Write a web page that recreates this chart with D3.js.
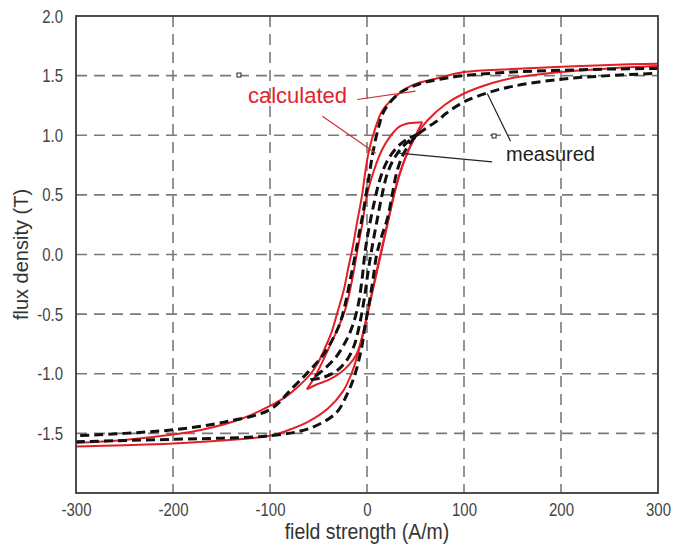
<!DOCTYPE html>
<html>
<head>
<meta charset="utf-8">
<script src="https://cdn.jsdelivr.net/npm/d3@7"></script>
<style>
  body { margin: 0; background: #fff; }
  text { font-family: "Liberation Sans", Arial, sans-serif; }
</style>
</head>
<body>
<div id="chart"></div>
<script>
// Data: [field strength (A/m), flux density (T)]
const xTicks = [-300, -200, -100, 0, 100, 200, 300]
const yTicks = [-1.5, -1.0, -0.5, 0.0, 0.5, 1.0, 1.5, 2.0]

// calculated, major loop
const calcMajorDown = [
  [300, 1.60], [250, 1.59], [200, 1.575], [150, 1.555], [100, 1.53], [74, 1.48],
  [47, 1.42], [30, 1.33], [16, 1.21], [9, 1.07], [2, 0.87], [-2, 0.68], [-5, 0.5],
  [-10, 0.28], [-15, 0.05], [-19, -0.1], [-24, -0.3], [-31, -0.5], [-36, -0.64],
  [-42, -0.76], [-50, -0.9], [-58, -1.0], [-70, -1.1], [-85, -1.2], [-100, -1.27],
  [-130, -1.38], [-170, -1.47], [-200, -1.51], [-250, -1.555], [-300, -1.58]
]
const calcMajorUp = [
  [-300, -1.61], [-250, -1.60], [-200, -1.585], [-150, -1.56], [-100, -1.52],
  [-80, -1.47], [-60, -1.40], [-40, -1.29], [-25, -1.15], [-16, -1.0], [-10, -0.85],
  [-5, -0.7], [0, -0.52], [6, -0.3], [12, -0.08], [17, 0.1], [23, 0.32], [28, 0.5],
  [34, 0.68], [41, 0.84], [48, 0.96], [55, 1.05], [63, 1.13], [81, 1.26], [100, 1.35],
  [130, 1.44], [150, 1.48], [200, 1.53], [250, 1.56], [300, 1.58]
]
// calculated, minor loop
const calcMinorDown = [
  [57, 1.11], [43, 1.10], [33, 1.07], [23, 0.98], [15, 0.87], [7, 0.7], [0, 0.5],
  [-5, 0.25], [-10, 0.03], [-15, -0.2], [-22, -0.45], [-30, -0.62], [-38, -0.76],
  [-46, -0.9], [-54, -1.03], [-62, -1.13]
]
const calcMinorUp = [
  [-62, -1.13], [-52, -1.09], [-39, -1.05], [-27, -0.99], [-18, -0.92], [-11, -0.84],
  [-6, -0.72], [-1, -0.55], [5, -0.32], [11, -0.1], [16, 0.08], [22, 0.3], [27, 0.48],
  [33, 0.66], [40, 0.82], [47, 0.95], [52, 1.03], [57, 1.11]
]

// measured, major loop
const measMajorDown = [
  [300, 1.56], [250, 1.555], [200, 1.545], [150, 1.53], [100, 1.50], [75, 1.47],
  [54, 1.43], [33, 1.35], [18, 1.21], [12, 1.07], [6, 0.85], [1, 0.6], [-4, 0.35],
  [-8, 0.18], [-12, 0.0], [-17, -0.2], [-22, -0.4], [-28, -0.58], [-36, -0.72],
  [-46, -0.85], [-60, -0.98], [-77, -1.12], [-100, -1.30], [-150, -1.41],
  [-200, -1.47], [-250, -1.50], [-300, -1.52]
]
const measMajorUp = [
  [-300, -1.57], [-250, -1.56], [-200, -1.55], [-150, -1.54], [-100, -1.52],
  [-60, -1.46], [-32, -1.33], [-21, -1.18], [-13, -1.02], [-6, -0.8], [-2, -0.6],
  [2, -0.42], [6, -0.22], [10, 0.0], [15, 0.15], [21, 0.3], [26, 0.5], [31, 0.7],
  [38, 0.85], [48, 0.97], [56, 1.03], [74, 1.13], [81, 1.18], [100, 1.28],
  [126, 1.36], [150, 1.41], [200, 1.47], [250, 1.50], [300, 1.52]
]
// measured, minor loop
const measMinorDown = [
  [53, 1.01], [42, 0.97], [30, 0.89], [20, 0.77], [13, 0.62], [7, 0.42], [2, 0.22],
  [-2, 0.02], [-5, -0.2], [-9, -0.42], [-15, -0.6], [-22, -0.73], [-32, -0.86],
  [-44, -0.96], [-58, -1.05]
]
const measMinorUp = [
  [-58, -1.05], [-45, -1.03], [-32, -0.98], [-22, -0.9], [-14, -0.78], [-8, -0.6],
  [-3, -0.38], [1, -0.15], [5, 0.05], [10, 0.27], [15, 0.48], [21, 0.68], [29, 0.82],
  [40, 0.93], [53, 1.01]
]

// annotation leader lines (data coordinates)
const calcLeaders = [[[-10, 1.30], [50, 1.37]], [[-46, 1.16], [9, 0.85]]]
const measLeaders = [[[124, 1.35], [148, 0.95]], [[33, 0.85], [129, 0.776]]]
const markers = [[-132, 1.505], [131, 0.994]]

function draw() {
  // Dimensions
  let dimensions = {
    width: 673,
    height: 545,
    margins: { top: 16, right: 15, bottom: 52, left: 76 }
  }
  dimensions.ctrWidth = dimensions.width - dimensions.margins.left - dimensions.margins.right
  dimensions.ctrHeight = dimensions.height - dimensions.margins.top - dimensions.margins.bottom

  const svg = d3.select('#chart')
    .append('svg')
    .attr('width', dimensions.width)
    .attr('height', dimensions.height)

  const ctr = svg.append('g')
    .attr('transform', `translate(${dimensions.margins.left}, ${dimensions.margins.top})`)

  // Scales
  const xScale = d3.scaleLinear()
    .domain([-300, 300])
    .range([0, dimensions.ctrWidth])

  const yScale = d3.scaleLinear()
    .domain([-2, 2])
    .range([dimensions.ctrHeight, 0])

  // Grid
  const gridDash = '11,7'
  ctr.append('g')
    .selectAll('line')
    .data(xTicks.slice(1, -1))
    .join('line')
    .attr('x1', d => xScale(d))
    .attr('x2', d => xScale(d))
    .attr('y1', 0)
    .attr('y2', dimensions.ctrHeight)
    .attr('stroke', '#7a7a7a')
    .attr('stroke-width', 1.6)
    .attr('stroke-dasharray', gridDash)

  ctr.append('g')
    .selectAll('line')
    .data(yTicks.slice(0, -1))
    .join('line')
    .attr('x1', 0)
    .attr('x2', dimensions.ctrWidth)
    .attr('y1', d => yScale(d))
    .attr('y2', d => yScale(d))
    .attr('stroke', '#7a7a7a')
    .attr('stroke-width', 1.6)
    .attr('stroke-dasharray', gridDash)

  // Axes (labels are a little taller than wide in the reference)
  const xAxis = d3.axisBottom(xScale)
    .tickValues(xTicks)
    .tickSize(0)
    .tickFormat(d => String(d))

  const xAxisGroup = ctr.append('g')
    .attr('transform', `translate(0, ${dimensions.ctrHeight})`)
    .call(xAxis)
  xAxisGroup.select('.domain').remove()
  xAxisGroup.selectAll('text')
    .attr('y', 19.5)
    .attr('dy', 0)
    .attr('transform', 'scale(1, 1.18)')
    .attr('fill', '#444')
    .style('font-size', '15px')

  const yAxis = d3.axisLeft(yScale)
    .tickValues(yTicks)
    .tickSize(0)
    .tickFormat(d => d.toFixed(1))

  const yAxisGroup = ctr.append('g').call(yAxis)
  yAxisGroup.select('.domain').remove()
  yAxisGroup.selectAll('text')
    .attr('x', -13)
    .attr('dy', '0.34em')
    .attr('transform', 'scale(1, 1.18)')
    .attr('fill', '#444')
    .style('font-size', '15px')

  // Curves
  const clip = svg.append('clipPath').attr('id', 'plot-clip')
  clip.append('rect')
    .attr('width', dimensions.ctrWidth)
    .attr('height', dimensions.ctrHeight)

  const lineGen = d3.line()
    .x(d => xScale(d[0]))
    .y(d => yScale(d[1]))
    .curve(d3.curveCatmullRom.alpha(0.5))

  const curves = ctr.append('g').attr('clip-path', 'url(#plot-clip)')

  curves.selectAll('path.calc')
    .data([calcMajorDown, calcMajorUp, calcMinorDown, calcMinorUp])
    .join('path')
    .classed('calc', true)
    .attr('d', lineGen)
    .attr('fill', 'none')
    .attr('stroke', '#e41e26')
    .attr('stroke-width', 2)

  curves.selectAll('path.meas')
    .data([measMajorDown, measMajorUp, measMinorDown, measMinorUp])
    .join('path')
    .classed('meas', true)
    .attr('d', lineGen)
    .attr('fill', 'none')
    .attr('stroke', '#111')
    .attr('stroke-width', 3)
    .attr('stroke-dasharray', '9,5')

  // Frame
  ctr.append('rect')
    .attr('width', dimensions.ctrWidth)
    .attr('height', dimensions.ctrHeight)
    .attr('fill', 'none')
    .attr('stroke', '#3a3a3a')
    .attr('stroke-width', 1.8)

  // Annotations
  const annot = ctr.append('g')

  annot.selectAll('line.calc-lead')
    .data(calcLeaders)
    .join('line')
    .classed('calc-lead', true)
    .attr('x1', d => xScale(d[0][0]))
    .attr('y1', d => yScale(d[0][1]))
    .attr('x2', d => xScale(d[1][0]))
    .attr('y2', d => yScale(d[1][1]))
    .attr('stroke', '#c8323a')
    .attr('stroke-width', 1.2)

  annot.selectAll('line.meas-lead')
    .data(measLeaders)
    .join('line')
    .classed('meas-lead', true)
    .attr('x1', d => xScale(d[0][0]))
    .attr('y1', d => yScale(d[0][1]))
    .attr('x2', d => xScale(d[1][0]))
    .attr('y2', d => yScale(d[1][1]))
    .attr('stroke', '#222')
    .attr('stroke-width', 1.2)

  annot.selectAll('rect')
    .data(markers)
    .join('rect')
    .attr('x', d => xScale(d[0]) - 2)
    .attr('y', d => yScale(d[1]) - 2)
    .attr('width', 4)
    .attr('height', 4)
    .attr('fill', '#fff')
    .attr('stroke', '#222')
    .attr('stroke-width', 1)

  annot.append('text')
    .attr('x', xScale(-122.7))
    .attr('y', yScale(1.27))
    .attr('fill', '#e2232b')
    .style('font-size', '22px')
    .text('calculated')

  annot.append('text')
    .attr('x', xScale(143.3))
    .attr('y', yScale(0.784))
    .attr('fill', '#222')
    .style('font-size', '20px')
    .text('measured')

  // Axis labels
  svg.append('text')
    .attr('transform', `translate(${dimensions.margins.left + dimensions.ctrWidth / 2}, 539) scale(1, 1.1)`)
    .attr('text-anchor', 'middle')
    .attr('fill', '#333')
    .style('font-size', '19.5px')
    .text('field strength (A/m)')

  svg.append('text')
    .attr('transform', `translate(28, ${dimensions.margins.top + dimensions.ctrHeight / 2}) rotate(-90)`)
    .attr('text-anchor', 'middle')
    .attr('fill', '#333')
    .style('font-size', '20px')
    .text('flux density (T)')
}

draw()
</script>
</body>
</html>
